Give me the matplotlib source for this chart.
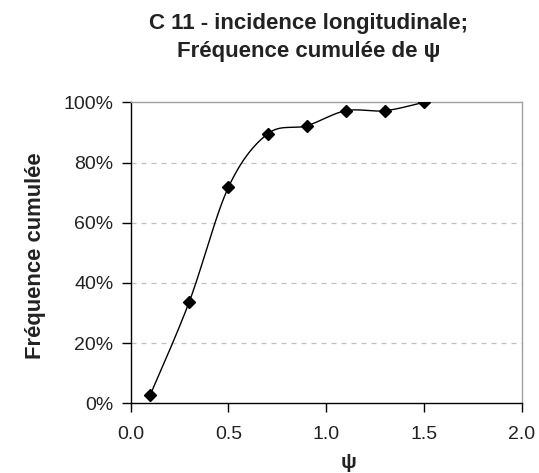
import numpy as np
import matplotlib
matplotlib.use("Agg")
import matplotlib.pyplot as plt
from matplotlib.ticker import FuncFormatter

psi = [0.1, 0.3, 0.5, 0.7, 0.9, 1.1, 1.3, 1.5]
freq = [0.028, 0.338, 0.718, 0.895, 0.922, 0.972, 0.972, 1.00]
x_ticks = [0.0, 0.5, 1.0, 1.5, 2.0]
y_ticks = [0.0, 0.2, 0.4, 0.6, 0.8, 1.0]

plt.rcParams['font.family'] = ['Liberation Sans', 'DejaVu Sans']
TXT = '#222222'


def catmull_rom(xs, ys, n=30):
    xs = np.asarray(xs, float)
    ys = np.asarray(ys, float)
    P = np.column_stack([xs, ys])
    P = np.vstack([P[0], P, P[-1]])
    out = []
    for i in range(1, len(P) - 2):
        p0, p1, p2, p3 = P[i - 1], P[i], P[i + 1], P[i + 2]
        c1 = p1 + (p2 - p0) / 6.0
        c2 = p2 - (p3 - p1) / 6.0
        t = np.linspace(0, 1, n)[:, None]
        seg = ((1 - t) ** 3) * p1 + 3 * ((1 - t) ** 2) * t * c1 + 3 * (1 - t) * t ** 2 * c2 + t ** 3 * p2
        out.append(seg if i == 1 else seg[1:])
    out = np.vstack(out)
    return out[:, 0], out[:, 1]


fig = plt.figure(figsize=(5.39, 4.73), dpi=100)
ax = fig.add_axes([130.7 / 539, 1 - 403.3 / 473, 391 / 539, 301 / 473])

sx, sy = catmull_rom(psi, freq)
ax.plot(sx, sy, color='black', lw=1.0, zorder=3)
ax.plot(psi, freq, linestyle='none', marker='D', markersize=6.5, color='black', zorder=4)

ax.set_xlim(0, 2.0)
ax.set_ylim(0, 1.0)
ax.set_xticks(x_ticks)
ax.set_yticks(y_ticks)
ax.xaxis.set_major_formatter(FuncFormatter(lambda v, p: f"{v:.1f}"))
ax.yaxis.set_major_formatter(FuncFormatter(lambda v, p: f"{int(round(v * 100))}%"))
ax.tick_params(direction='out', length=6.5, width=1, labelsize=14, colors='black',
               labelcolor=TXT)
ax.tick_params(axis='x', pad=10)
ax.tick_params(axis='y', pad=6)

for yv in y_ticks[1:-1]:
    ax.axhline(yv, color='#c0c0c0', lw=0.9, linestyle=(0, (4, 4)), zorder=1)

ax.spines['left'].set_color('black')
ax.spines['bottom'].set_color('black')
ax.spines['top'].set_color('#a0a0a0')
ax.spines['right'].set_color('#a0a0a0')
for s in ax.spines.values():
    s.set_linewidth(1.0)

fig.text(36 / 539, 1 - 256 / 473, "Fréquence cumulée", rotation=90, ha='center', va='center',
         fontsize=15.8, fontweight='bold', color=TXT)
fig.text(348 / 539, 1 - 462 / 473, "ψ", ha='center', va='center',
         fontsize=15, fontweight='bold', color=TXT)

fig.text(309 / 539, 1 - 23 / 473, "C 11 - incidence longitudinale;", ha='center', va='center',
         fontsize=16, fontweight='bold', color=TXT)
fig.text(309 / 539, 1 - 52 / 473, "Fréquence cumulée de ψ", ha='center', va='center',
         fontsize=16, fontweight='bold', color=TXT)

fig.savefig("out.png", dpi=100)
